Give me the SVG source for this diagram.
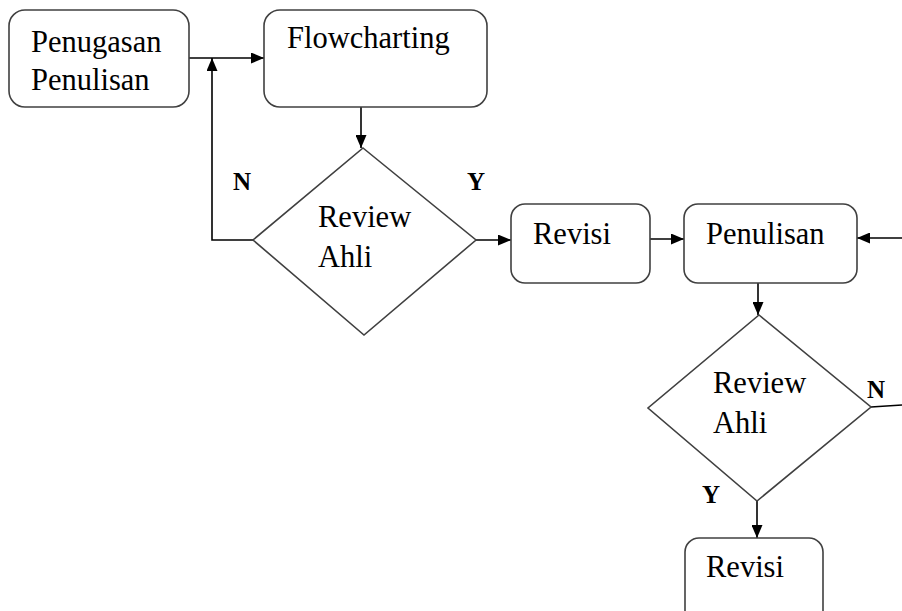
<svg xmlns="http://www.w3.org/2000/svg" width="902" height="611" viewBox="0 0 902 611">
<style>
.box{fill:#fff;stroke:#404040;stroke-width:1.6}
.t{font-family:"Liberation Serif","Times New Roman",serif;font-size:30.5px;fill:#000}
.lb{font-family:"Liberation Serif","Times New Roman",serif;font-size:25px;font-weight:bold;fill:#000}
.c{fill:none;stroke:#000;stroke-width:1.6}
</style>
<defs>
<marker id="ah" viewBox="0 0 13 11" refX="13" refY="5.5" markerWidth="13" markerHeight="11" markerUnits="userSpaceOnUse" orient="auto">
<path d="M0,0 L13,5.5 L0,11 Z" fill="#000"/>
</marker>
</defs>
<rect width="902" height="611" fill="#fff"/>
<g id="connectors">
<line class="c" x1="189" y1="58" x2="264" y2="58" marker-end="url(#ah)"/>
<polyline class="c" points="253,240 212,240 212,58" marker-end="url(#ah)"/>
<line class="c" x1="361" y1="107" x2="361" y2="148" marker-end="url(#ah)"/>
<line class="c" x1="476" y1="240" x2="511" y2="240" marker-end="url(#ah)"/>
<line class="c" x1="648" y1="239" x2="684" y2="239" marker-end="url(#ah)"/>
<line class="c" x1="902" y1="238" x2="857" y2="238" marker-end="url(#ah)"/>
<line class="c" x1="758" y1="283" x2="758" y2="315" marker-end="url(#ah)"/>
<line class="c" x1="871" y1="407" x2="902" y2="405"/>
<line class="c" x1="757" y1="501" x2="757" y2="538" marker-end="url(#ah)"/>
</g>
<g id="n1"><rect class="box" x="9" y="10" width="180" height="97" rx="16"/><text class="t" x="31" y="52">Penugasan</text><text class="t" x="31" y="90">Penulisan</text></g>
<g id="n2"><rect class="box" x="264" y="10" width="223" height="97" rx="16"/><text class="t" x="287" y="48">Flowcharting</text></g>
<g id="d1"><polygon class="box" points="363,148 476,240 364,335 253,240"/><text class="t" x="318" y="227">Review</text><text class="t" x="318" y="267">Ahli</text></g>
<text class="lb" x="233" y="190">N</text>
<text class="lb" x="467" y="190">Y</text>
<g id="n3"><rect class="box" x="511" y="204" width="139" height="79" rx="14"/><text class="t" x="533" y="244">Revisi</text></g>
<g id="n4"><rect class="box" x="684" y="204" width="173" height="79" rx="14"/><text class="t" x="706" y="244">Penulisan</text></g>
<g id="d2"><polygon class="box" points="759,315 871,407 757,501 648,408"/><text class="t" x="713" y="393">Review</text><text class="t" x="713" y="433">Ahli</text></g>
<text class="lb" x="867" y="398">N</text>
<text class="lb" x="702" y="503">Y</text>
<g id="n5"><rect class="box" x="685" y="538" width="138" height="90" rx="14"/><text class="t" x="706" y="577">Revisi</text></g>
</svg>
